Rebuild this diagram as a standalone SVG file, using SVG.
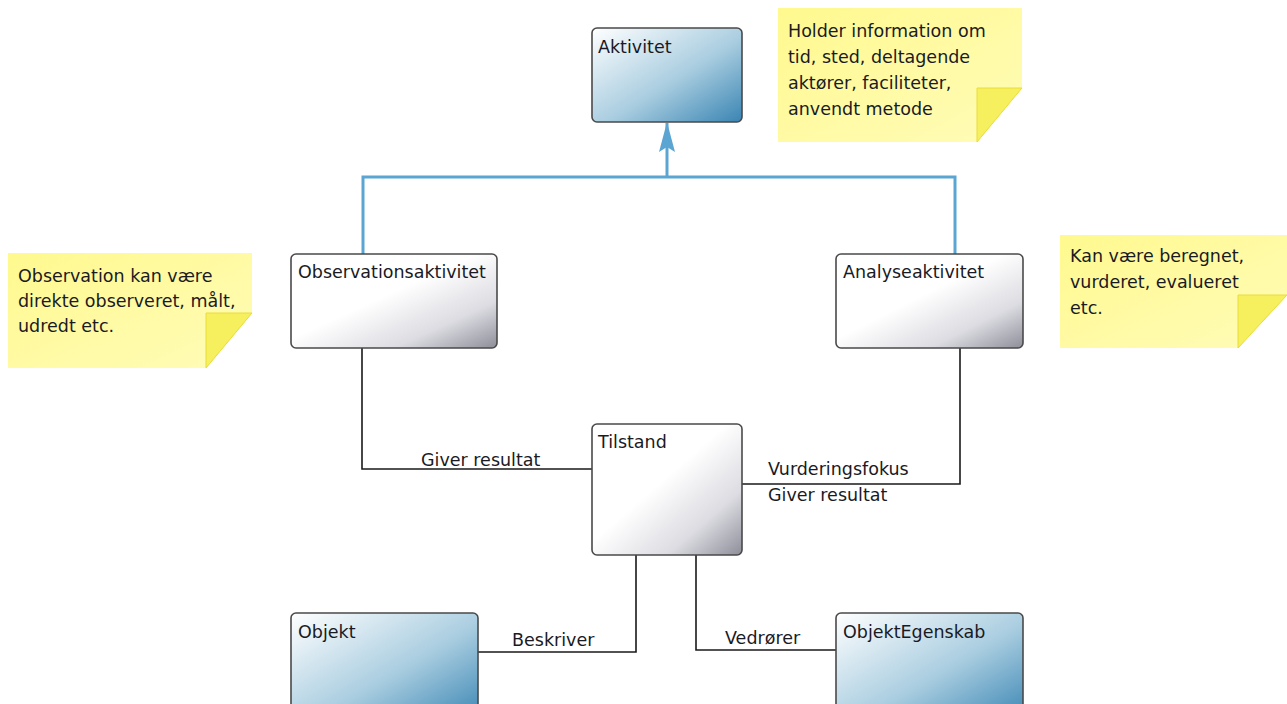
<svg xmlns="http://www.w3.org/2000/svg" width="1287" height="704" viewBox="0 0 1287 704">
<defs>
<linearGradient id="gBlue" x1="0" y1="0" x2="1" y2="1">
<stop offset="0" stop-color="#ffffff"/>
<stop offset="0.55" stop-color="#a9cde0"/>
<stop offset="1" stop-color="#3a85b3"/>
</linearGradient>
<linearGradient id="gGray" x1="0" y1="0" x2="1" y2="1">
<stop offset="0" stop-color="#ffffff"/>
<stop offset="0.45" stop-color="#ffffff"/>
<stop offset="0.75" stop-color="#dcdce2"/>
<stop offset="1" stop-color="#8e8e9a"/>
</linearGradient>
<linearGradient id="gNote" x1="0" y1="0" x2="1" y2="1">
<stop offset="0" stop-color="#fff98f"/>
<stop offset="1" stop-color="#fffcb8"/>
</linearGradient>
<marker id="genArrow" viewBox="0 0 30 18" refX="29" refY="9" markerWidth="30" markerHeight="18" markerUnits="userSpaceOnUse" orient="auto">
<path d="M30 9 L0 1 L5 9 L0 17 Z" fill="#5aa5d2"/>
</marker>
</defs>
<style>
text{font-family:"DejaVu Sans","Liberation Sans",sans-serif;font-size:17.5px;fill:#1a1a24}
.box{stroke:#4a4a4a;stroke-width:1.6}
.blue{fill:url(#gBlue)}
.gray{fill:url(#gGray)}
.note{fill:url(#gNote)}
.fold{fill:#f6ef5e;stroke:#e8dd3a;stroke-width:1}
.assoc{fill:none;stroke:#1a1a1a;stroke-width:1.6}
.gen{fill:none;stroke:#5aa5d2;stroke-width:3}
</style>

<g id="connectors">
<path class="gen" d="M363 254 V177 H955 V254"/>
<path class="gen" d="M667 177 V123" marker-end="url(#genArrow)"/>
<path class="assoc" d="M362 348 V469 H592"/>
<text x="421" y="466">Giver resultat</text>
<path class="assoc" d="M742 484 H960 V348"/>
<text x="768" y="475">Vurderingsfokus</text>
<text x="768" y="501">Giver resultat</text>
<path class="assoc" d="M636 555 V652 H478"/>
<text x="512" y="646">Beskriver</text>
<path class="assoc" d="M696 555 V650 H836"/>
<text x="725" y="644">Vedrører</text>
</g>

<g id="note-top">
<path class="note" d="M778 8 H1022 V88 L977 142 H778 Z"/>
<path class="fold" d="M977 88 H1022 L977 142 Z"/>
<text x="788" y="37">Holder information om</text>
<text x="788" y="63">tid, sted, deltagende</text>
<text x="788" y="89">aktører, faciliteter,</text>
<text x="788" y="115">anvendt metode</text>
</g>

<g id="note-left">
<path class="note" d="M8 253 H252 V313 L206 368 H8 Z"/>
<path class="fold" d="M206 313 H252 L206 368 Z"/>
<text x="18" y="282">Observation kan være</text>
<text x="18" y="307">direkte observeret, målt,</text>
<text x="18" y="332">udredt etc.</text>
</g>

<g id="note-right">
<path class="note" d="M1060 235 H1287 V295 L1238 348 H1060 Z"/>
<path class="fold" d="M1238 295 H1287 L1238 348 Z"/>
<text x="1070" y="262">Kan være beregnet,</text>
<text x="1070" y="288">vurderet, evalueret</text>
<text x="1070" y="314">etc.</text>
</g>

<g id="node-aktivitet">
<rect class="box blue" x="592" y="28" width="150" height="94" rx="5"/>
<text x="598" y="53">Aktivitet</text>
</g>

<g id="node-observationsaktivitet">
<rect class="box gray" x="291" y="254" width="206" height="94" rx="5"/>
<text x="298" y="278">Observationsaktivitet</text>
</g>

<g id="node-analyseaktivitet">
<rect class="box gray" x="836" y="254" width="187" height="94" rx="5"/>
<text x="843" y="278">Analyseaktivitet</text>
</g>

<g id="node-tilstand">
<rect class="box gray" x="592" y="424" width="150" height="131" rx="5"/>
<text x="598" y="448">Tilstand</text>
</g>

<g id="node-objekt">
<rect class="box blue" x="291" y="613" width="187" height="110" rx="5"/>
<text x="298" y="638">Objekt</text>
</g>

<g id="node-objektegenskab">
<rect class="box blue" x="836" y="613" width="187" height="110" rx="5"/>
<text x="843" y="638">ObjektEgenskab</text>
</g>
</svg>
